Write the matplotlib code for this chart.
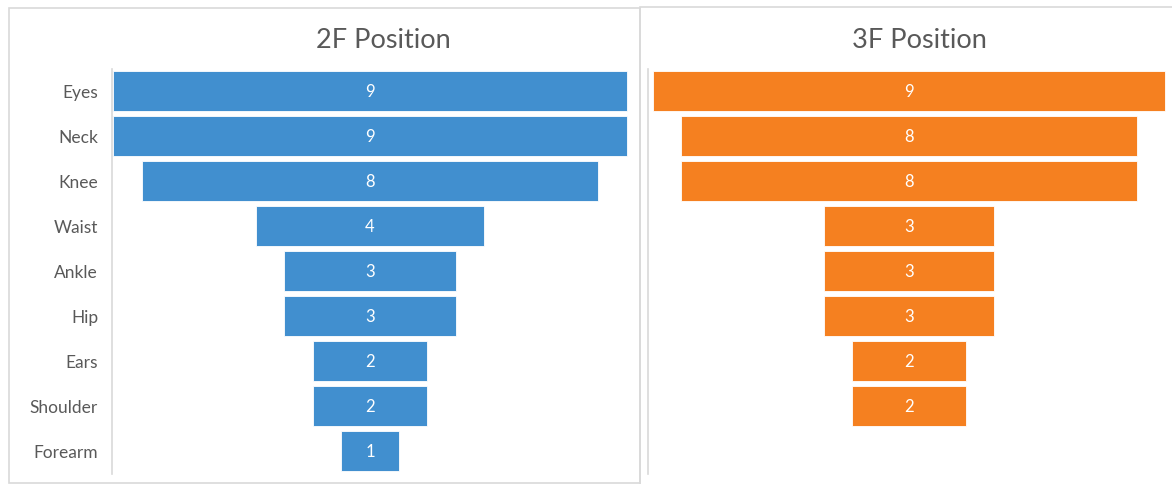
import matplotlib.pyplot as plt
from matplotlib.patches import Rectangle

plt.rcParams['font.family'] = ['Lato', 'DejaVu Sans']

# data
categories = ['Eyes', 'Neck', 'Knee', 'Waist', 'Ankle', 'Hip', 'Ears', 'Shoulder', 'Forearm']
values_2f = [9, 9, 8, 4, 3, 3, 2, 2, 1]
values_3f = [9, 8, 8, 3, 3, 3, 2, 2]
title_2f = '2F Position'
title_3f = '3F Position'

W, H = 1172, 485
fig = plt.figure(figsize=(W / 100, H / 100), dpi=100)

def px_axes(x0, y0, x1, y1):
    return fig.add_axes([x0 / W, 1 - y1 / H, (x1 - x0) / W, (y1 - y0) / H])

# panel borders
border = '#D9D9D9'
fig.patches.append(Rectangle((9 / W, 1 - 484 / H), (640 - 9) / W, (484 - 9) / H,
                             transform=fig.transFigure, fill=False, ec=border, lw=1.2))
fig.patches.append(Rectangle((640 / W, 1 - 487 / H), (1175 - 640) / W, (487 - 8) / H,
                             transform=fig.transFigure, fill=False, ec=border, lw=1.2))


def funnel(ax, vals, color, half):
    n = len(categories)
    ys = list(range(len(vals)))
    ax.barh(ys, vals, left=[-v / 2 for v in vals], height=0.89, color=color,
            edgecolor='white', linewidth=0.6)
    for y, v in zip(ys, vals):
        ax.text(0, y, str(v), ha='center', va='center', color='white', fontsize=12)
    ax.set_xlim(-half, half)
    ax.set_ylim(n - 0.5, -0.5)
    for s in ['top', 'right', 'bottom']:
        ax.spines[s].set_visible(False)
    ax.spines['left'].set_color('#D9D9D9')
    ax.spines['left'].set_linewidth(1.2)
    ax.set_xticks([])
    ax.tick_params(axis='y', length=0, pad=10, labelsize=12.5, labelcolor='#595959')
    ax.set_facecolor('none')


ax1 = px_axes(112, 69.5, 628, 474.5)
funnel(ax1, values_2f, '#418FCF', 258 / 57.1)
ax1.set_yticks(range(len(categories)))
ax1.set_yticklabels(categories)
fig.text(383 / W, 1 - 41 / H, title_2f, ha='center', va='center', fontsize=19.5, color='#595959')

ax2 = px_axes(648, 69.5, 1170, 474.5)
funnel(ax2, values_3f, '#F58020', 261 / 56.9)
ax2.set_yticks([])
fig.text(919 / W, 1 - 40 / H, title_3f, ha='center', va='center', fontsize=19.5, color='#595959')

fig.savefig('out.png', dpi=100)
